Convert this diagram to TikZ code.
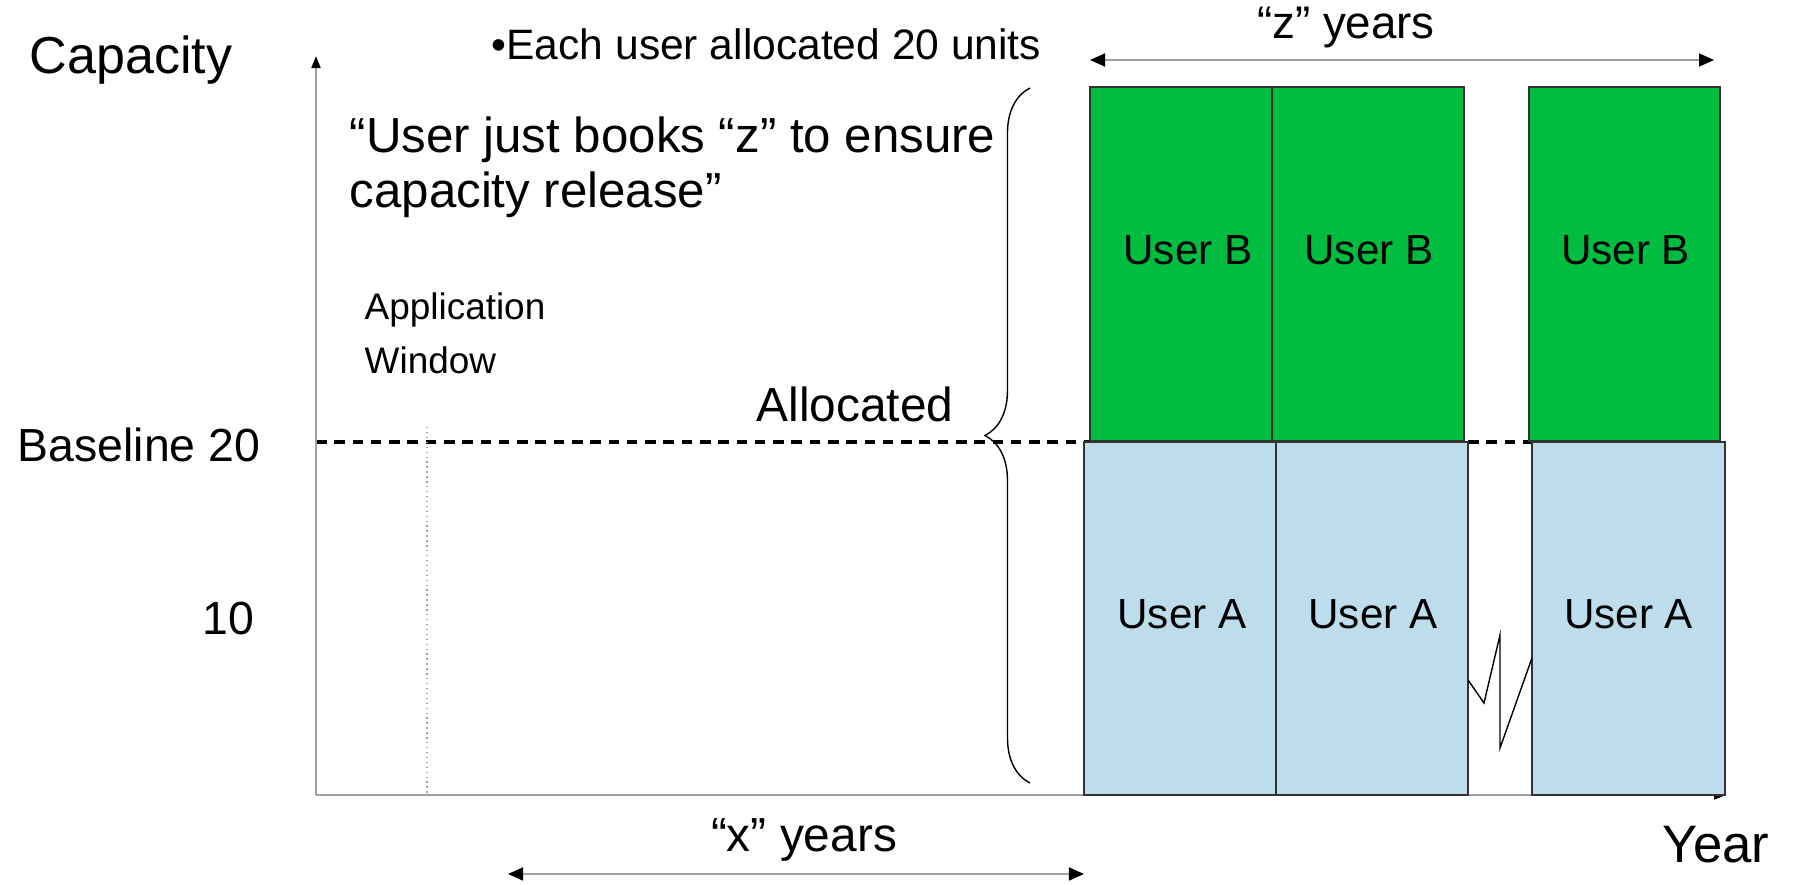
\documentclass[tikz,border=0pt]{standalone}
\usepackage{fontspec}
\setmainfont{Liberation Sans}
\usetikzlibrary{arrows.meta, decorations.pathreplacing}

\definecolor{boxgreen}{RGB}{0,189,63}
\definecolor{boxblue}{RGB}{189,221,237}
\definecolor{axisgray}{RGB}{160,160,160}

\tikzset{
  userbox/.style={draw=black!80, line width=0.4pt, inner sep=0pt},
  userlbl/.style={font=\fontsize{12}{14}\selectfont},
  axisline/.style={draw=axisgray, line width=0.5pt,
    -{Triangle[color=black, length=0.12cm, width=0.09cm]}},
  spanarrow/.style={draw=axisgray, line width=0.5pt,
    {Triangle[color=black, length=0.15cm, width=0.13cm]}-{Triangle[color=black, length=0.15cm, width=0.13cm]}},
  basedash/.style={draw=black, line width=1pt, dash pattern=on 3pt off 2.2pt},
  bigtext/.style={font=\fontsize{13.6}{16}\selectfont},
}

\begin{document}
\begin{tikzpicture}[x=0.01cm, y=-0.01cm]
\useasboundingbox (0,0) rectangle (1820,885);

% Axes and guide lines
\coordinate (O) at (316,795);
\coordinate (ytop) at (316,56);
\coordinate (xend) at (1726,795);
\coordinate (base0) at (316,442);
\coordinate (base1) at (1720,442);
\coordinate (win0) at (427,427);
\coordinate (win1) at (427,795);

\draw[basedash] (base0) -- (base1);
\draw[axisgray, line width=0.4pt, densely dotted] (win0) -- (win1);
\draw[axisline] (O) -- (ytop);
\draw[axisline] (O) -- (xend);

% Booked blocks
\path
(1181,264) node[userbox, fill=boxgreen, minimum width=1.82cm, minimum height=3.54cm] (B1) {}
(1368,264) node[userbox, fill=boxgreen, minimum width=1.92cm, minimum height=3.54cm] (B2) {}
(1624.5,264) node[userbox, fill=boxgreen, minimum width=1.91cm, minimum height=3.54cm] (B3) {}
(1180,618.5) node[userbox, fill=boxblue, minimum width=1.92cm, minimum height=3.53cm] (A1) {}
(1372,618.5) node[userbox, fill=boxblue, minimum width=1.92cm, minimum height=3.53cm] (A2) {}
(1628.5,618.5) node[userbox, fill=boxblue, minimum width=1.93cm, minimum height=3.53cm] (A3) {}
;
\path
(B1.center) +(7,-14) node[userlbl] (lB1) {User B}
(B2.center) +(1,-14) node[userlbl] (lB2) {User B}
(B3.center) +(1,-14) node[userlbl] (lB3) {User B}
(A1.center) +(2,-4.5) node[userlbl] (lA1) {User A}
(A2.center) +(1,-4.5) node[userlbl] (lA2) {User A}
(A3.center) +(0,-4.5) node[userlbl] (lA3) {User A}
;

% Break in time
\draw[line width=0.4pt] (1468,680) -- (1484,703) -- (1500,635) -- (1500,748) -- (1532,658);

% Allocated brace
\draw[line width=0.4pt, decorate, decoration={brace, amplitude=0.45cm}]
(1030,783) -- (1030,88);

% Labels
\node[font=\fontsize{14.8}{18}\selectfont] (cap) at (131,60) {Capacity};
\node[font=\fontsize{15}{18}\selectfont] (year) at (1716,845) {Year};
\node[font=\fontsize{13.2}{16}\selectfont, anchor=east, inner sep=0] (base) at (261,445) {Baseline 20};
\node[font=\fontsize{13.2}{16}\selectfont, anchor=east, inner sep=0] (ten) at (255,619) {10};
\node[bigtext] (alloc) at (855,404) {Allocated};
\node[font=\fontsize{12.1}{14}\selectfont, anchor=west, inner sep=0] (each) at (491,44) {•Each user allocated 20 units};
\node[font=\fontsize{14}{15.6}\selectfont, anchor=north west, align=left, inner sep=0] (quote) at (349,116)
{“User just books “z” to ensure\\capacity release”};
\node[font=\fontsize{10.5}{15.4}\selectfont, anchor=north west, align=left, inner sep=0] (window) at (364,292)
{Application\\Window};

% Spans
\coordinate (z0) at (1090,60);
\coordinate (z1) at (1714,60);
\coordinate (x0) at (508,874);
\coordinate (x1) at (1084,874);
\draw[spanarrow] (z0) -- (z1);
\draw[spanarrow] (x0) -- (x1);
\node[font=\fontsize{13}{16}\selectfont] (zyears) at (1346,28) {“z” years};
\node[bigtext] (xyears) at (804,840) {“x” years};

\end{tikzpicture}
\end{document}
